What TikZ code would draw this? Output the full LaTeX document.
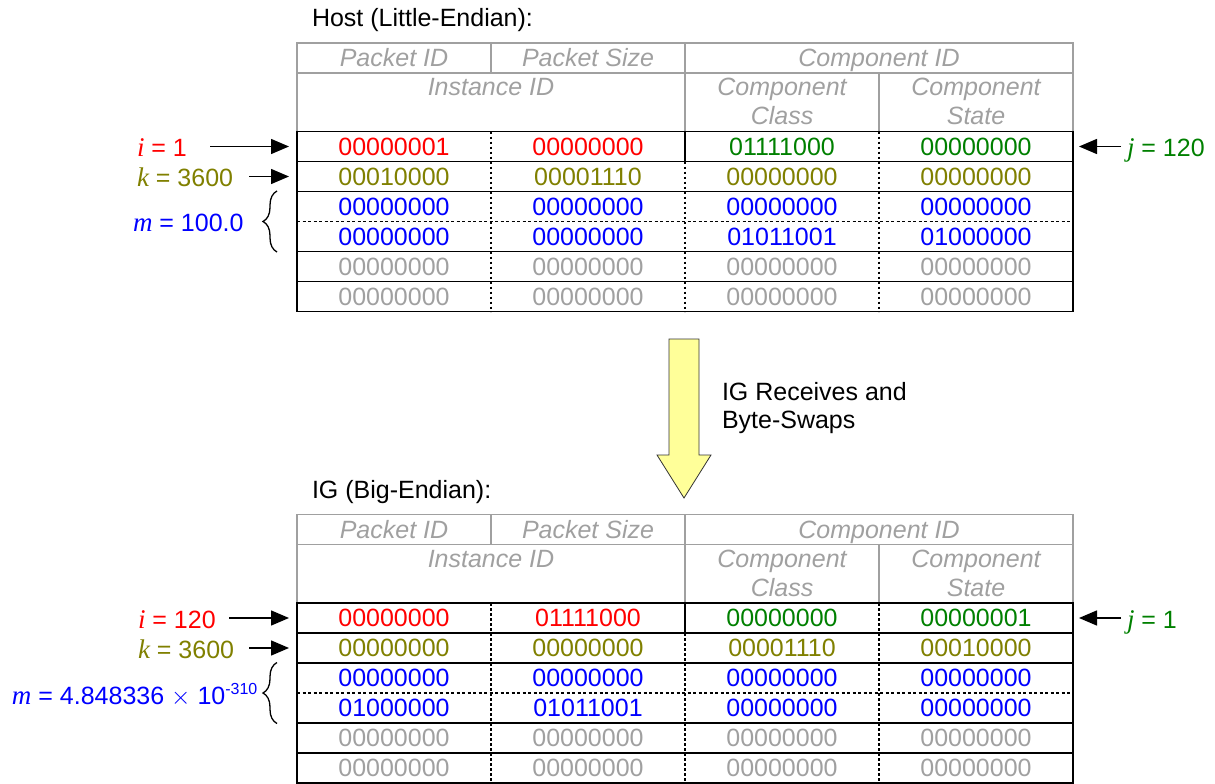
\documentclass[tikz,border=0pt]{standalone}
\usepackage{fontspec}
\setmainfont{Liberation Sans}
\newfontfamily\varfont{Liberation Serif}
\usetikzlibrary{arrows.meta,decorations.pathreplacing}

\definecolor{hdrgray}{HTML}{A0A0A0}
\definecolor{valgray}{HTML}{A0A0A0}
\definecolor{cred}{HTML}{FF0000}
\definecolor{colive}{HTML}{808000}
\definecolor{cblue}{HTML}{0000FF}
\definecolor{cgreen}{HTML}{008000}
\definecolor{swapyellow}{HTML}{FFFF99}

% italic serif variable name
\newcommand\mathvar[1]{{\fontsize{27}{27}\varfont\itshape #1}}

\tikzset{
  txt/.style={font=\fontsize{25}{30}\selectfont, inner sep=0pt, outer sep=0pt},
  hdr/.style={txt, text=hdrgray, font=\fontsize{25}{30}\selectfont\itshape, anchor=base},
  val/.style={txt, anchor=center},
  lbl/.style={txt, anchor=base west},
  hdrline/.style={draw=hdrgray, line width=1.2pt},
  rowline/.style={draw=black, line width=1.5pt},
  dotline/.style={draw=black, line width=2.5pt, dash pattern=on 2.5pt off 2.5pt},
  dashline/.style={draw=black, line width=1.3pt, dash pattern=on 3pt off 2.5pt},
  pointer/.style={draw=black, line width=1.5pt, -{Triangle[length=18pt,width=15pt]}},
  bracemark/.style={draw=black, line width=1.3pt, decorate, decoration={brace, amplitude=14pt}},
  swaparrow/.style={draw=black!80, line width=0.8pt, fill=swapyellow},
}

% packet table: #1 = name prefix, #2 = data rows
% each row: left colour/right colour/byte1/byte2/byte3/byte4
\newcommand\packettable[2]{%
  % header grid
  \draw[hdrline] (297,131.5) -- (297,43) -- (1073,43) -- (1073,131.5);
  \draw[hdrline] (297,73) -- (1073,73);
  \draw[hdrline] (491,43) -- (491,73);
  \draw[hdrline] (685,43) -- (685,131.5);
  \draw[hdrline] (879,73) -- (879,131.5);
  \node[hdr] (#1-pid) at (394,66.5) {Packet ID};
  \node[hdr] (#1-psize) at (588,66.5) {Packet Size};
  \node[hdr] (#1-cid) at (879,66.5) {Component ID};
  \node[hdr] (#1-iid) at (491,95.5) {Instance ID};
  \node[hdr] (#1-cclass) at (782,95.5) {Component};
  \node[hdr] (#1-cclassb) at (782,124.5) {Class};
  \node[hdr] (#1-cstate) at (976,95.5) {Component};
  \node[hdr] (#1-cstateb) at (976,124.5) {State};
  % data grid
  \draw[dotline] (491,131.5) -- (491,311.5);
  \draw[dotline] (879,131.5) -- (879,311.5);
  \draw[dotline] (685,161.5) -- (685,311.5);
  \draw[rowline, line width=1.2pt] (685,131.5) -- (685,161.5);
  \draw[dashline] (297,221.5) -- (1073,221.5);
  \foreach \y in {161.5,191.5,251.5,281.5} \draw[rowline] (297,\y) -- (1073,\y);
  \draw[rowline] (297,131.5) rectangle (1073,311.5);
  % byte values
  \foreach \cl/\cr/\va/\vb/\vc/\vd [count=\n] in {#2} {
    \pgfmathsetmacro\yy{116.5+30*\n}
    \node[val, text=\cl] (#1-\n-a) at (394,\yy) {\va};
    \node[val, text=\cl] (#1-\n-b) at (588,\yy) {\vb};
    \node[val, text=\cr] (#1-\n-c) at (782,\yy) {\vc};
    \node[val, text=\cr] (#1-\n-d) at (976,\yy) {\vd};
    \coordinate (#1-in-\n) at (289,\yy);
    \coordinate (#1-out-\n) at (1079,\yy);
  }
}

\begin{document}
\begin{tikzpicture}[x=1pt, y=-1pt]
\useasboundingbox (0,0) rectangle (1215,784);

% ---------- host side ----------
\node[lbl] (hosttitle) at (312,27) {Host (Little-Endian):};
\packettable{host}{
  cred/cgreen/00000001/00000000/01111000/00000000,
  colive/colive/00010000/00001110/00000000/00000000,
  cblue/cblue/00000000/00000000/00000000/00000000,
  cblue/cblue/00000000/00000000/01011001/01000000,
  valgray/valgray/00000000/00000000/00000000/00000000,
  valgray/valgray/00000000/00000000/00000000/00000000}

\node[lbl, text=cred] (hi) at (137,156) {\mathvar{i} = 1};
\node[lbl, text=colive] (hk) at (137,186) {\mathvar{k} = 3600};
\node[lbl, text=cblue] (hm) at (133,231.5) {\mathvar{m} = 100.0};
\node[lbl, text=cgreen] (hj) at (1127,156) {\mathvar{j} = 120};
\coordinate (hi-tail) at (210,146.5);
\coordinate (hk-tail) at (249,176.5);
\coordinate (hj-tail) at (1121,146.5);
\draw[pointer] (hi-tail) -- (host-in-1);
\draw[pointer] (hk-tail) -- (host-in-2);
\draw[pointer] (hj-tail) -- (host-out-1);
\coordinate (hm-lo) at (277,252);
\coordinate (hm-hi) at (277,191);
\draw[bracemark] (hm-lo) -- (hm-hi);

% ---------- byte swap ----------
\draw[swaparrow] (669,339) -- (699,339) -- (699,455) -- (711,455)
  -- (684,498) -- (657,455) -- (669,455) -- cycle;
\node[lbl] (swap1) at (722,400) {IG Receives and};
\node[lbl] (swap2) at (722,428) {Byte-Swaps};

% ---------- IG side ----------
\begin{scope}[shift={(0,471.5)}]
\node[lbl] (igtitle) at (312,27) {IG (Big-Endian):};
\packettable{ig}{
  cred/cgreen/00000000/01111000/00000000/00000001,
  colive/colive/00000000/00000000/00001110/00010000,
  cblue/cblue/00000000/00000000/00000000/00000000,
  cblue/cblue/01000000/01011001/00000000/00000000,
  valgray/valgray/00000000/00000000/00000000/00000000,
  valgray/valgray/00000000/00000000/00000000/00000000}
\end{scope}

\node[lbl, text=cred] (gi) at (138,628) {\mathvar{i} = 120};
\node[lbl, text=colive] (gk) at (138,658) {\mathvar{k} = 3600};
\node[lbl, text=cblue] (gm) at (12,704)
  {\mathvar{m} = 4.848336 $\times$ 10\raisebox{10pt}{\fontsize{16}{16}\selectfont -310}};
\node[lbl, text=cgreen] (gj) at (1127,628) {\mathvar{j} = 1};
\coordinate (gi-tail) at (229,618);
\coordinate (gk-tail) at (249,648);
\coordinate (gj-tail) at (1121,618);
\draw[pointer] (gi-tail) -- (ig-in-1);
\draw[pointer] (gk-tail) -- (ig-in-2);
\draw[pointer] (gj-tail) -- (ig-out-1);
\coordinate (gm-lo) at (277,723.5);
\coordinate (gm-hi) at (277,662.5);
\draw[bracemark] (gm-lo) -- (gm-hi);
\end{tikzpicture}
\end{document}
